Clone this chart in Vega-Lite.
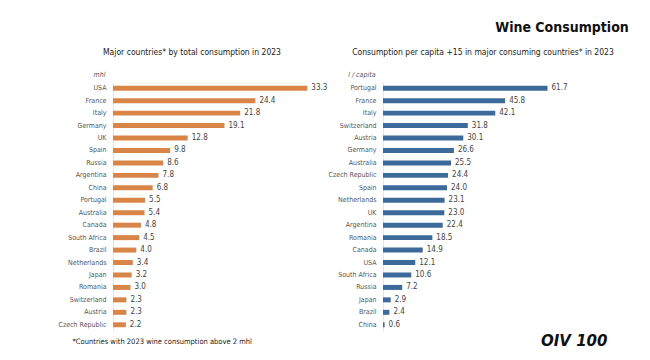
{
  "$schema": "https://vega.github.io/schema/vega-lite/v6.json",
  "background": "white",
  "padding": {"left": 58, "top": 20, "right": 10, "bottom": 5},
  "spacing": 0,
  "title": {"text": "Wine Consumption", "anchor": "end", "fontSize": 14, "font": "DejaVu Sans Condensed, sans-serif", "fontWeight": "bold", "color": "#111111", "offset": 13, "dx": 15},
  "config": {
    "view": {"stroke": null},
    "font": "DejaVu Sans Condensed, sans-serif",
    "axis": {"labelFont": "DejaVu Sans Condensed, sans-serif", "titleFont": "DejaVu Sans Condensed, sans-serif", "labelColor": "#555555", "titleColor": "#555555", "labelFontSize": 7, "titleFontSize": 7, "titleFontWeight": "normal", "grid": false},
    "title": {"font": "DejaVu Sans Condensed, sans-serif", "fontSize": 8.5, "fontWeight": "normal", "color": "#222222"}
  },
  "datasets": {
    "total": [
      {"country": "USA", "value": 33.3},
      {"country": "France", "value": 24.4},
      {"country": "Italy", "value": 21.8},
      {"country": "Germany", "value": 19.1},
      {"country": "UK", "value": 12.8},
      {"country": "Spain", "value": 9.8},
      {"country": "Russia", "value": 8.6},
      {"country": "Argentina", "value": 7.8},
      {"country": "China", "value": 6.8},
      {"country": "Portugal", "value": 5.5},
      {"country": "Australia", "value": 5.4},
      {"country": "Canada", "value": 4.8},
      {"country": "South Africa", "value": 4.5},
      {"country": "Brazil", "value": 4.0},
      {"country": "Netherlands", "value": 3.4},
      {"country": "Japan", "value": 3.2},
      {"country": "Romania", "value": 3.0},
      {"country": "Switzerland", "value": 2.3},
      {"country": "Austria", "value": 2.3},
      {"country": "Czech Republic", "value": 2.2}
    ],
    "percapita": [
      {"country": "Portugal", "value": 61.7},
      {"country": "France", "value": 45.8},
      {"country": "Italy", "value": 42.1},
      {"country": "Switzerland", "value": 31.8},
      {"country": "Austria", "value": 30.1},
      {"country": "Germany", "value": 26.6},
      {"country": "Australia", "value": 25.5},
      {"country": "Czech Republic", "value": 24.4},
      {"country": "Spain", "value": 24.0},
      {"country": "Netherlands", "value": 23.1},
      {"country": "UK", "value": 23.0},
      {"country": "Argentina", "value": 22.4},
      {"country": "Romania", "value": 18.5},
      {"country": "Canada", "value": 14.9},
      {"country": "USA", "value": 12.1},
      {"country": "South Africa", "value": 10.6},
      {"country": "Russia", "value": 7.2},
      {"country": "Japan", "value": 2.9},
      {"country": "Brazil", "value": 2.4},
      {"country": "China", "value": 0.6}
    ]
  },
  "hconcat": [
    {
      "width": 206,
      "height": 249,
      "title": {"text": "Major countries* by total consumption in 2023", "anchor": "middle", "dx": -24, "offset": 14},
      "data": {"name": "total"},
      "encoding": {
        "y": {"field": "country", "type": "nominal", "sort": null,
          "scale": {"paddingInner": 0.6, "paddingOuter": 0.3},
          "axis": {"title": "mhl", "titleAngle": 0, "titleAlign": "right", "titleBaseline": "middle", "titleX": -8, "titleY": -8, "titleFontStyle": "italic", "ticks": false, "labelPadding": 7, "domainColor": "#e6e6e6"}},
        "x": {"field": "value", "type": "quantitative", "scale": {"domain": [0, 35.3]},
          "axis": {"labels": false, "ticks": false, "domain": false, "title": "*Countries with 2023 wine consumption above 2 mhl", "titleX": -41, "titleAlign": "left", "titlePadding": 6, "titleColor": "#222222", "titleFontSize": 7.5}}
      },
      "layer": [
        {"mark": {"type": "bar", "color": "#D98548"}},
        {"mark": {"type": "text", "align": "left", "dx": 4, "fontSize": 8, "color": "#444444"},
          "encoding": {"text": {"field": "value", "type": "quantitative", "format": ".1f"}}}
      ]
    },
    {
      "width": 200,
      "height": 249,
      "title": {"text": "Consumption per capita +15 in major consuming countries* in 2023", "anchor": "middle", "offset": 14},
      "data": {"name": "percapita"},
      "encoding": {
        "y": {"field": "country", "type": "nominal", "sort": null,
          "scale": {"paddingInner": 0.6, "paddingOuter": 0.3},
          "axis": {"title": "l / capita", "titleAngle": 0, "titleAlign": "right", "titleBaseline": "middle", "titleX": -8, "titleY": -8, "titleFontStyle": "italic", "ticks": false, "labelPadding": 7, "domainColor": "#e6e6e6"}},
        "x": {"field": "value", "type": "quantitative", "scale": {"domain": [0, 75]},
          "axis": {"labels": false, "ticks": false, "domain": false, "title": "OIV 100", "titleX": 224, "titleAlign": "right", "titleFont": "DejaVu Sans, sans-serif", "titleFontSize": 15, "titleFontWeight": "bold", "titleFontStyle": "italic", "titleColor": "#111111", "titlePadding": 2}}
      },
      "layer": [
        {"mark": {"type": "bar", "color": "#3C6A9B"}},
        {"mark": {"type": "text", "align": "left", "dx": 4, "fontSize": 8, "color": "#444444"},
          "encoding": {"text": {"field": "value", "type": "quantitative", "format": ".1f"}}}
      ]
    }
  ]
}
